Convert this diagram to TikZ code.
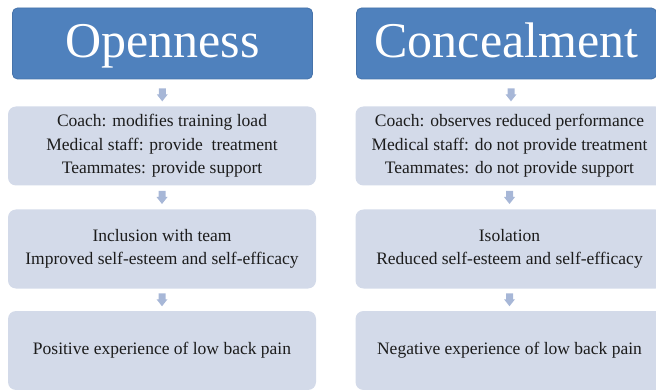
\documentclass[tikz,border=0pt]{standalone}
\usepackage{fontspec}
\setmainfont{Liberation Serif}
\usetikzlibrary{calc}
\definecolor{headBlue}{HTML}{4F81BD}
\definecolor{headEdge}{HTML}{4673AA}
\definecolor{stageFill}{HTML}{D3DAE9}
\definecolor{stepBlue}{HTML}{A7B7D7}
\definecolor{bodyText}{HTML}{1C1C1C}

\tikzset{
    heading/.style={draw=headEdge, line width=0.8pt, fill=headBlue, rounded corners=5pt,
        minimum width=300, minimum height=71, inner sep=0pt, text=white,
        font=\fontsize{50}{58}\selectfont, text height=33pt, text depth=4pt},
    stage/.style={fill=stageFill, rounded corners=8pt, minimum width=308, minimum height=79,
        inner sep=0pt, align=center, text=bodyText, font=\fontsize{17.5}{23.5}\selectfont},
    flowarrow/.pic={
        \fill[stepBlue] (-3.5,6.5) -- (3.5,6.5) -- (3.5,0.5) -- (5.5,0.5) -- (0,-6.5)
            -- (-5.5,0.5) -- (-3.5,0.5) -- cycle;
    }
}

\begin{document}
\begin{tikzpicture}[x=1pt, y=1pt]
    \useasboundingbox (0,0) rectangle (656,-390);

    % Left column - openness
    \node[heading] (open0) at (162.5,-43.5) {Openness};
    \node[stage] (open1) at (162,-146) {Coach: modifies training load\\Medical staff: provide\ \ treatment\\Teammates: provide support};
    \node[stage] (open2) at (162,-249) {Inclusion with team\\Improved self-esteem and self-efficacy};
    \node[stage] (open3) at (162,-350.5) {Positive experience of low back pain};

    % Right column - concealment
    \node[heading] (hide0) at (506.5,-43.5) {Concealment};
    \node[stage] (hide1) at (509.5,-146) {Coach: observes reduced performance\\Medical staff: do not provide treatment\\Teammates: do not provide support};
    \node[stage] (hide2) at (509.5,-249) {Isolation\\Reduced self-esteem and self-efficacy};
    \node[stage] (hide3) at (509.5,-350.5) {Negative experience of low back pain};

    % Arrows between the stages
    \pic at ($(open0.south)!0.5!(open1.north)+(0,-2)$) {flowarrow};
    \pic at ($(open1.south)!0.5!(open2.north)$) {flowarrow};
    \pic at ($(open2.south)!0.5!(open3.north)$) {flowarrow};
    \pic at ($(hide0.south)!0.5!(hide1.north)+(3,-2)$) {flowarrow};
    \pic at ($(hide1.south)!0.5!(hide2.north)$) {flowarrow};
    \pic at ($(hide2.south)!0.5!(hide3.north)$) {flowarrow};
\end{tikzpicture}
\end{document}
